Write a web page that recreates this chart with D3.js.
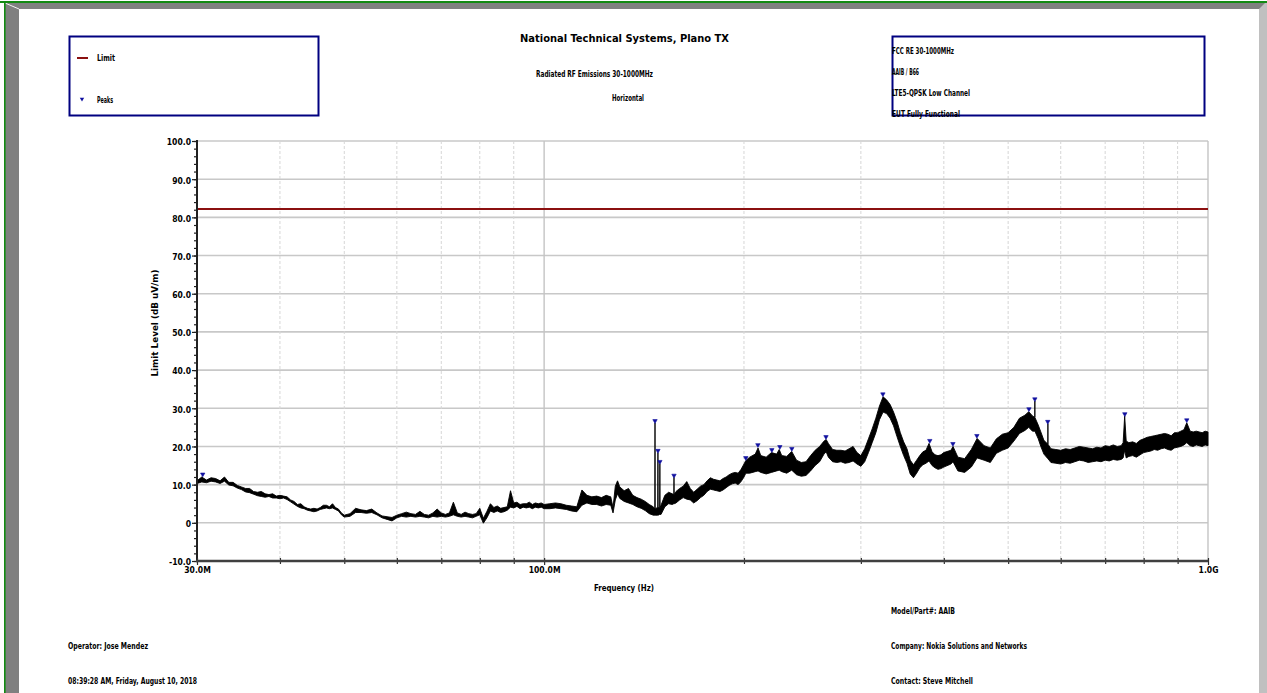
<!DOCTYPE html>
<html><head><meta charset="utf-8">
<script src="https://cdn.jsdelivr.net/npm/d3@7"></script>
<style>
html,body{margin:0;padding:0;background:#fff;overflow:hidden}
svg{display:block}
text{font-family:"Liberation Sans Narrow","Arial Narrow","DejaVu Sans Condensed","Liberation Sans",sans-serif;fill:#000}
</style></head><body>
<svg id="c" width="1267" height="693"></svg>
<script>
// ---------------- data ----------------
const yTickValues = [-10,0,10,20,30,40,50,60,70,80,90,100];
const yTickLabels = ["-10.0","0","10.0","20.0","30.0","40.0","50.0","60.0","70.0","80.0","90.0","100.0"];
const xTickValues = [30,100,1000];
const xTickLabels = ["30.0M","100.0M","1.0G"];
const xMinorValues = [40,50,60,70,80,90,200,300,400,500,600,700,800,900];
const limitLevel = 82.2;

const traceMHz = [
 30,30.5,31,31.5,32,32.5,33,33.5,34,34.5,
 35,35.5,36,36.5,37,37.5,38,38.5,39,39.5,
 40,40.5,41,41.5,42,42.5,43,43.5,44,44.5,
 45,45.5,46,46.5,47,47.5,48,48.5,49,49.5,
 50,51,52,53,54,55,56,57,58,59,
 60,61,62,63,64,65,66,67,68,69,
 70,71,72,73,74,75,76,77,78,79,
 80,81,82,83,84,85,86,87,88,89,
 90,91,92,93,94,95,96,97,98,99,
 100,102,104,106,108,110,112,114,116,118,
 120,122,124,126,127,128,129,130,132,134,
 136,138,140,142,144,146,146.8,146.9,147,148,
 148.3,148.4,148.5,149.3,149.4,149.5,150,152,154,156,
 156.8,156.9,157,158,160,162,164,166,168,170,
 172,174,176,178,180,182,184,186,188,190,
 192,194,196,198,200,201.3,204,208,210,212,
 216,220,224,226,228,232,236,240,244,248,
 252,256,260,264,266,268,272,276,280,284,
 288,292,296,300,304,308,312,316,320,324,
 328,332,336,340,344,348,352,356,360,364,
 368,372,376,380,384,388,392,396,400,410,
 413,420,430,440,449,460,470,480,490,500,
 510,520,530,537,544,548.4,548.5,548.6,555,560,
 566,573.8,573.9,574,580,590,600,610,620,630,
 640,650,660,670,680,690,700,710,720,730,
 740,745,749,753,760,770,780,790,800,810,
 820,830,840,850,860,870,880,890,900,910,
 920,929,940,950,960,970,980,990,1000
];
const traceLo = [
 10.3,10.7,10.5,10.9,10.7,10.3,10.9,9.9,9.7,9.1,
 8.7,8.1,7.9,7.5,7.1,6.9,6.7,6.9,6.5,6.5,
 6.3,6.5,6.1,5.5,4.9,4.3,3.9,3.7,3.3,3.1,
 2.9,3.1,3.5,3.7,3.9,3.7,3.9,3.5,3.1,2.1,
 1.5,1.7,2.7,2.7,2.5,2.7,2.1,1.3,0.9,0.5,
 1.3,1.7,1.5,1.7,1.5,1.7,1.5,1.3,1.7,1.5,
 1.7,1.5,1.7,2.1,1.7,1.5,1.7,1.5,1.3,1.7,
 2.1,-0.1,1.3,3.1,2.7,3.1,2.7,2.9,3.3,4.1,
 3.9,4.3,3.7,4.1,3.9,4.1,3.7,4.1,3.9,4.1,
 3.7,3.7,3.9,3.7,3.5,3.1,2.9,4.6,5.2,4.8,
 4.8,4.4,4.8,4.6,2.6,6.0,7.6,6.4,5.6,5.2,
 4.8,4.2,3.8,3.2,2.4,2.0,2.0,2.0,2.0,2.0,
 2.0,2.0,2.0,2.2,2.2,2.2,2.2,4.2,5.0,4.8,
 5.0,5.0,5.0,5.2,6.0,6.6,6.2,6.0,5.2,5.8,
 6.6,7.2,8.2,8.8,8.6,8.4,8.2,8.6,9.2,9.8,
 10.2,10.4,10.0,10.8,12.0,13.0,13.0,13.4,13.6,13.2,
 12.8,13.2,13.6,13.8,13.4,13.0,13.8,12.6,12.2,12.4,
 13.6,15.0,16.0,18.0,18.6,17.2,16.0,15.8,16.0,15.6,
 15.8,16.2,15.4,14.8,16.0,18.4,21.0,23.6,27.0,29.0,
 28.6,27.4,25.4,22.6,20.0,17.6,15.6,12.8,11.8,13.0,
 14.4,15.2,15.6,16.2,15.0,14.4,14.0,14.2,14.6,15.4,
 16.0,13.6,13.2,14.6,17.0,16.4,15.8,18.2,19.0,19.6,
 21.4,23.4,24.2,25.0,24.0,24.0,24.0,24.0,22.0,20.0,
 18.0,16.8,16.8,16.8,15.8,15.6,15.4,15.8,15.6,16.0,
 16.4,16.2,15.8,16.0,16.2,16.0,16.4,16.2,16.6,16.4,
 16.6,17.0,19.0,17.0,17.4,17.6,17.2,17.8,18.4,18.6,
 18.8,19.2,19.0,19.4,19.6,19.2,19.0,19.6,19.8,20.0,
 20.4,21.0,20.2,20.0,20.4,20.2,20.0,20.4,20.2
];
const traceHi = [
 11.0,12.0,11.2,11.8,11.6,11.0,12.0,10.6,10.6,9.8,
 9.4,9.0,9.0,8.2,8.0,8.2,7.6,7.4,7.6,7.0,
 7.2,7.0,6.8,6.0,5.6,4.8,5.0,4.2,3.8,3.6,
 3.8,3.6,4.0,4.6,4.6,4.2,5.0,4.0,3.6,2.6,
 2.0,2.4,3.8,3.4,3.2,3.6,2.6,1.8,1.6,1.4,
 2.0,2.4,2.8,2.4,2.2,3.0,2.2,2.0,2.6,3.6,
 2.6,2.2,2.6,5.4,2.6,2.2,2.8,2.4,2.2,2.4,
 3.8,1.2,3.0,5.0,4.0,4.4,3.8,4.0,4.2,8.4,
 5.2,5.4,4.8,5.0,5.0,5.4,4.8,5.2,5.0,5.2,
 4.8,5.0,5.2,5.0,4.6,4.4,4.2,8.6,7.2,6.8,
 7.0,6.6,7.2,6.8,4.0,9.6,11.0,9.4,8.4,9.0,
 7.2,6.6,6.2,5.6,4.8,4.2,3.6,26.2,3.6,4.0,
 4.0,18.4,4.0,4.0,15.5,4.0,4.6,7.2,8.0,7.6,
 7.4,11.9,7.4,8.2,9.0,9.6,10.8,9.0,8.0,8.8,
 9.6,10.0,11.0,11.8,11.4,11.2,11.0,11.6,12.0,12.6,
 13.0,13.2,13.0,14.0,15.4,16.3,17.2,18.0,19.6,17.6,
 17.2,18.4,18.0,19.2,17.6,17.4,18.7,16.4,15.8,16.0,
 17.6,19.0,20.0,21.4,21.8,20.8,19.2,19.0,19.0,18.8,
 19.4,20.0,18.4,17.6,19.4,22.0,24.6,27.4,30.6,33.0,
 32.2,31.0,29.0,26.6,23.6,21.2,19.4,16.4,15.2,16.4,
 17.6,18.6,19.0,20.8,18.6,17.8,17.6,17.8,18.4,19.0,
 20.0,17.2,16.8,19.2,22.1,20.2,19.6,22.0,23.2,23.6,
 25.0,27.4,28.2,29.1,28.0,27.6,31.9,27.6,25.6,23.8,
 21.6,20.6,26.0,20.6,19.4,19.2,19.0,19.4,19.2,19.6,
 20.0,19.8,19.6,19.4,19.8,19.6,20.2,20.0,20.4,20.0,
 20.2,21.0,28.0,21.4,21.0,21.2,20.8,21.6,22.0,22.4,
 22.6,22.8,23.0,23.2,23.4,23.2,22.8,23.6,23.6,24.0,
 24.4,26.2,24.0,23.8,24.0,23.8,23.6,24.0,23.8
];

const peakMHz   = [30.6,146.9,148.4,149.4,156.9,201.3,209.9,220.3,226.5,236.1,265.8,323.8,381,412.8,448.6,537.4,548.5,573.6,749.4,929];
const peakLevel = [12.2,26.2,18.4,15.5,11.9,16.5,19.9,18.6,19.4,18.9,22.0,33.2,21.0,20.2,22.3,29.3,31.9,26.0,28.0,26.4];

const legendLabels = ["Limit","Peaks"];
const infoLines = ["FCC RE 30-1000MHz","AAIB / B66","LTE5-QPSK Low Channel","EUT Fully Functional"];
const titleText = "National Technical Systems, Plano TX";
const subTitle1 = "Radiated RF Emissions 30-1000MHz";
const subTitle2 = "Horizontal";
const xTitle = "Frequency (Hz)";
const yTitle = "Limit Level (dB uV/m)";
const footLeft = ["Operator: Jose Mendez","08:39:28 AM, Friday, August 10, 2018"];
const footRight = ["Model/Part#: AAIB","Company: Nokia Solutions and Networks","Contact: Steve Mitchell"];

// ---------------- drawing ----------------
const svg = d3.select("#c");
const NAVY = "#000080", RED = "#8b1010", PEAK = "#1010a0";
const TOP = 141, BOT = 561, LEFT = 197, RIGHT = 1208;

// frame
svg.append("rect").attr("width",1267).attr("height",693).attr("fill","#fff");
svg.append("rect").attr("x",5).attr("y",3).attr("width",1262).attr("height",6).attr("fill","#808080");
svg.append("rect").attr("x",5).attr("y",3).attr("width",14).attr("height",690).attr("fill","#808080");
svg.append("polygon").attr("points","1259,9 1265,3 1267,3 1267,693 1259,693").attr("fill","#c0c0c0");
svg.append("line").attr("x1",5).attr("y1",3).attr("x2",19).attr("y2",9).attr("stroke","#f4f4f4").attr("stroke-width",1);
svg.append("rect").attr("x",0).attr("y",1).attr("width",1267).attr("height",2).attr("fill","#128a12");
svg.append("rect").attr("x",4).attr("y",1).attr("width",1.6).attr("height",692).attr("fill","#128a12");

// scales
const x = d3.scaleLog().domain([30,1000]).range([LEFT,RIGHT]);
const y = d3.scaleLinear().domain([-10,100]).range([BOT,TOP]);

// grid
const g = svg.append("g");
g.selectAll("line.hg").data(yTickValues.filter(v=>v>-10)).join("line")
  .attr("x1",LEFT).attr("x2",RIGHT).attr("y1",d=>y(d)).attr("y2",d=>y(d))
  .attr("stroke","#c8c8c8").attr("stroke-width",1.6);
g.selectAll("line.vg").data(xMinorValues).join("line")
  .attr("x1",d=>x(d)).attr("x2",d=>x(d)).attr("y1",TOP).attr("y2",BOT)
  .attr("stroke","#d6d6d6").attr("stroke-width",1).attr("stroke-dasharray","3,2");
g.selectAll("line.vm").data(xTickValues.slice(1)).join("line")
  .attr("x1",d=>x(d)).attr("x2",d=>x(d)).attr("y1",TOP).attr("y2",BOT)
  .attr("stroke","#c4c4c4").attr("stroke-width",1.4);

// limit line
svg.append("line").attr("x1",LEFT).attr("x2",RIGHT).attr("y1",y(limitLevel)).attr("y2",y(limitLevel))
  .attr("stroke",RED).attr("stroke-width",2);

// trace
const traceData = traceMHz.map((f,i)=>({f, lo:traceLo[i], hi:traceHi[i]}));
const area = d3.area().x(d=>x(d.f)).y0(d=>y(d.lo)).y1(d=>y(d.hi));
svg.append("path").datum(traceData).attr("d",area)
  .attr("fill","#000").attr("stroke","#000").attr("stroke-width",0.9).attr("stroke-linejoin","round");

// peaks
const peakData = peakMHz.map((f,i)=>({f, v:peakLevel[i]}));
const tri = (cx,cy)=>`M${cx-2.2},${cy-3.2}L${cx+2.2},${cy-3.2}L${cx},${cy+0.6}Z`;
svg.selectAll("path.pk").data(peakData).join("path")
  .attr("d",d=>tri(x(d.f),y(d.v))).attr("fill",PEAK).attr("stroke",PEAK).attr("stroke-width",0.6);

// axes
const FAM = '"Liberation Sans Narrow","Arial Narrow","DejaVu Sans Condensed",sans-serif';
const yAxisMinor = d3.axisLeft(y).tickValues(d3.range(-10,101,2)).tickSize(3).tickFormat("");
const yAxis = d3.axisLeft(y).tickValues(yTickValues).tickSize(5).tickPadding(1)
  .tickFormat((d,i)=>yTickLabels[i]);
const ya1 = svg.append("g").attr("transform",`translate(${LEFT},0)`).call(yAxisMinor);
const ya = svg.append("g").attr("transform",`translate(${LEFT},0)`).call(yAxis);
[ya1,ya].forEach(a=>{a.select(".domain").remove(); a.selectAll(".tick line").attr("stroke","#202020").attr("stroke-width",1.2);});
ya.selectAll(".tick text").attr("font-size",8.5).attr("font-weight","bold").attr("dy","0.45em").attr("font-family",FAM);
svg.append("line").attr("x1",LEFT).attr("x2",LEFT).attr("y1",TOP-1).attr("y2",BOT+1).attr("stroke","#202020").attr("stroke-width",2);

const xAxisMinor = d3.axisBottom(x).tickValues(xMinorValues).tickSize(3).tickFormat("");
const xAxis = d3.axisBottom(x).tickValues(xTickValues).tickSize(4).tickPadding(2).tickFormat((d,i)=>xTickLabels[i]);
const xa1 = svg.append("g").attr("transform",`translate(0,${BOT})`).call(xAxisMinor);
const xa = svg.append("g").attr("transform",`translate(0,${BOT})`).call(xAxis);
[xa1,xa].forEach(a=>{a.select(".domain").remove(); a.selectAll(".tick line").attr("stroke","#303030").attr("stroke-width",1.2).attr("y1",-3);});
xa.selectAll(".tick text").attr("font-size",8.5).attr("font-weight","bold").attr("fill","#000").attr("font-family",FAM);
svg.append("line").attr("x1",LEFT-1).attr("x2",RIGHT).attr("y1",BOT).attr("y2",BOT).attr("stroke","#404040").attr("stroke-width",2.6);

// text helper
function T(xp,yp,s,o={}){
  const t = svg.append("text").attr("x",xp).attr("y",yp).text(s)
    .attr("font-size",o.size||8.5).attr("font-weight",o.weight||"bold")
    .attr("text-anchor",o.anchor||"start");
  if(o.w){t.attr("textLength",o.w).attr("lengthAdjust","spacingAndGlyphs");}
  if(o.family) t.attr("font-family",o.family);
  if(o.rot) t.attr("transform",`rotate(${o.rot},${xp},${yp})`);
  return t;
}

// title block
T(624.5,42,titleText,{size:11,w:209,anchor:"middle",family:'"Liberation Sans",Arial,sans-serif'});
T(536,77,subTitle1,{size:9,w:117});
T(612,101,subTitle2,{size:9,w:32});

// legend box
svg.append("rect").attr("x",69.5).attr("y",36.5).attr("width",249).attr("height",79)
  .attr("fill","none").attr("stroke",NAVY).attr("stroke-width",2);
svg.append("line").attr("x1",77).attr("x2",88).attr("y1",58).attr("y2",58).attr("stroke",RED).attr("stroke-width",2);
svg.append("path").attr("d",tri(82,101)).attr("fill",PEAK);
T(97,61,legendLabels[0],{size:8.5,w:18});
T(97,103,legendLabels[1],{size:8.5,w:16});

// info box
svg.append("rect").attr("x",892.5).attr("y",36.5).attr("width",312).attr("height",79)
  .attr("fill","none").attr("stroke",NAVY).attr("stroke-width",2);
const infoY=[54,75,96,117], infoW=[62,27,78,68];
infoLines.forEach((s,i)=>T(892,infoY[i],s,{size:8.5,w:infoW[i]}));

// axis titles
T(624,591,xTitle,{size:8.5,w:60,anchor:"middle"});
T(158,323,yTitle,{size:8.5,w:107,anchor:"middle",rot:-90,family:'"Liberation Sans",Arial,sans-serif'});

// footer
T(68,649,footLeft[0],{size:8.5,w:80});
T(68,684,footLeft[1],{size:8.5,w:129});
const frY=[614,649,684], frW=[64,136,82];
footRight.forEach((s,i)=>T(891,frY[i],s,{size:8.5,w:frW[i]}));
</script>
</body></html>
